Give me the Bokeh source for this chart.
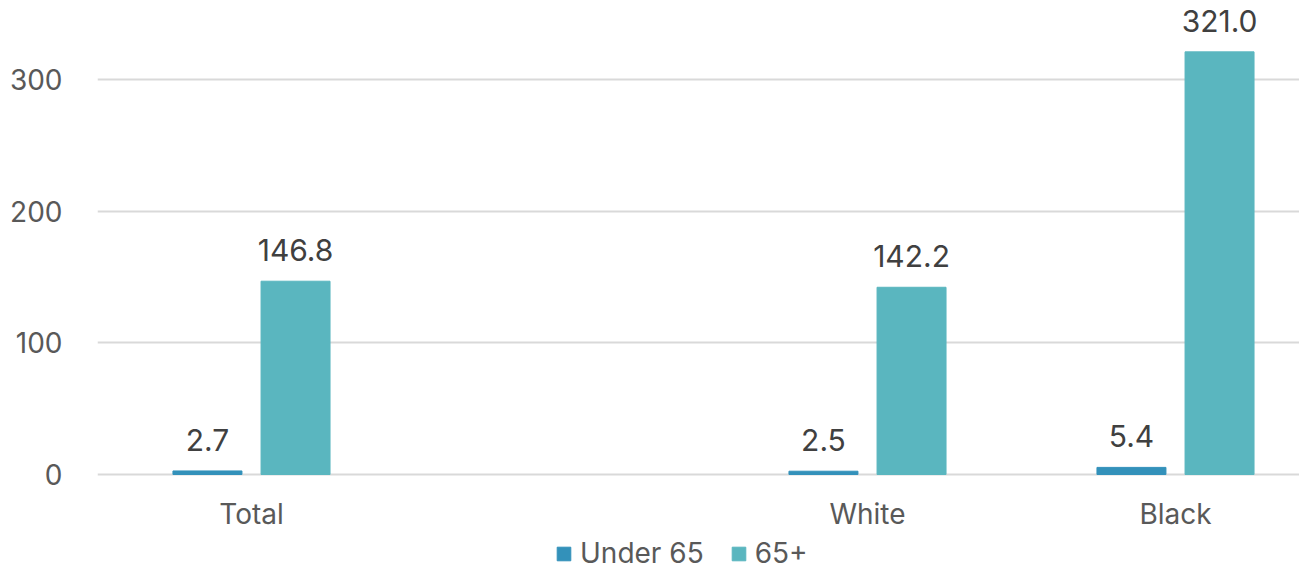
from bokeh.plotting import figure
from bokeh.models import ColumnDataSource, Range1d, FixedTicker, Legend, LegendItem
from bokeh.transform import dodge
from bokeh.embed import file_html
from bokeh.resources import INLINE
from bokeh.core.properties import value

# ---- data ----
categories = ["Total", "", "White", "Black"]
under65 = [2.7, None, 2.5, 5.4]
over65 = [146.8, None, 142.2, 321.0]
series_names = ["Under 65", "65+"]
y_ticks = [0, 100, 200, 300]

colors = ["#3391BA", "#5AB6BF"]
FONT = "Inter"

idx = [i for i, c in enumerate(categories) if c]
src = ColumnDataSource(dict(
    x=idx,
    cat=[categories[i] for i in idx],
    u=[under65[i] for i in idx],
    o=[over65[i] for i in idx],
    ul=[f"{under65[i]:.1f}" for i in idx],
    ol=[f"{over65[i]:.1f}" for i in idx],
))

p = figure(width=1299, height=570, output_backend="svg", toolbar_location=None,
           x_range=Range1d(-0.5, 3.4026), y_range=Range1d(-72.91, 360.0),
           min_border_left=97, min_border_right=0, min_border_top=0, min_border_bottom=0)
p.outline_line_color = None
p.background_fill_color = "white"
p.border_fill_color = "white"

bw = 0.224
off = 0.143
r1 = p.vbar(x=dodge("x", -off, range=p.x_range), top="u", bottom=0, width=bw, source=src,
            fill_color=colors[0], line_color=colors[0])
r2 = p.vbar(x=dodge("x", off, range=p.x_range), top="o", bottom=0, width=bw, source=src,
            fill_color=colors[1], line_color=colors[1])

for col, lab, o in (("u", "ul", -off), ("o", "ol", off)):
    p.text(x=dodge("x", o, range=p.x_range), y=col, text=lab, source=src,
           text_align="center", text_baseline="alphabetic", y_offset=-31,
           text_font_size="30px", text_color="#404040", text_font=value(FONT))

# axes
p.xaxis.fixed_location = 0
p.xaxis.ticker = FixedTicker(ticks=idx)
p.xaxis.major_label_overrides = {i: categories[i] for i in idx}
p.yaxis.ticker = FixedTicker(ticks=y_ticks)
for ax in (p.xaxis, p.yaxis):
    ax.axis_line_color = None
    ax.major_tick_line_color = None
    ax.minor_tick_line_color = None
    ax.major_label_text_font_size = "28px"
    ax.major_label_text_color = "#595959"
    ax.major_label_text_font = FONT
p.xaxis.major_label_standoff = 16
p.yaxis.major_label_standoff = 29

p.xgrid.grid_line_color = None
p.ygrid.ticker = FixedTicker(ticks=y_ticks)
p.ygrid.grid_line_color = "#D9D9D9"
p.ygrid.grid_line_width = 2

legend = Legend(items=[LegendItem(label=series_names[0], renderers=[r1]),
                       LegendItem(label=series_names[1], renderers=[r2])],
                location=(458, 0), orientation="horizontal",
                padding=0, margin=0, spacing=26, glyph_width=17, glyph_height=17,
                label_standoff=8, label_text_font_size="28px", label_text_color="#595959",
                label_text_font=FONT, border_line_color=None, background_fill_alpha=0)
p.add_layout(legend)

open("out.html", "w").write(file_html(p, INLINE))
